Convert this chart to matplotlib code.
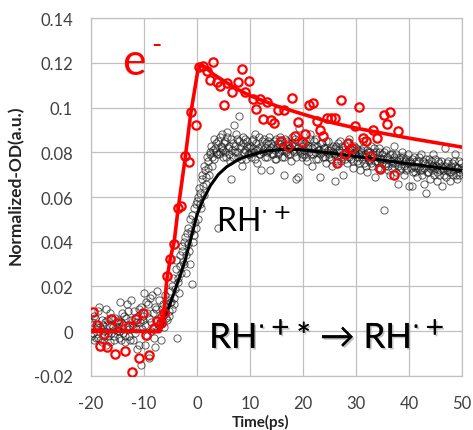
import numpy as np
import matplotlib
matplotlib.use("Agg")
import matplotlib.pyplot as plt
import matplotlib.patheffects as pe

# ---------------- data ----------------
# black (RH.+) scatter, scan 1: every 0.25 ps from -20 to 50 ps
black_t = np.arange(-20.0, 50.001, 0.25)
black_y = [
    # -20 .. -15.25
    -0.002, 0.004, -0.004, 0.006, 0.001, -0.003, 0.011, 0.002, -0.005, 0.003,
    0.000, -0.006, 0.005, -0.002, 0.008, -0.001, 0.003, -0.004, 0.006, 0.001,
    # -15 .. -10.25
    0.002, -0.003, 0.013, 0.004, -0.001, 0.007, -0.005, 0.002, 0.009, -0.002,
    0.014, 0.003, -0.004, 0.006, 0.001, -0.008, 0.010, 0.004, -0.015, 0.007,
    # -10 .. -5.25
    0.017, -0.006, 0.008, 0.012, -0.012, 0.004, 0.016, 0.001, -0.007, 0.010,
    0.018, 0.003, 0.006, -0.004, 0.012, 0.002, 0.009, 0.005, 0.014, 0.007,
    # -5 .. -0.25
    0.018, 0.010, 0.024, 0.015, 0.028, -0.003, 0.022, 0.034, 0.026, 0.038,
    0.030, 0.042, 0.026, 0.046, 0.036, 0.050, 0.021, 0.040, 0.055, 0.046,
    # 0 .. 4.75
    0.058, 0.050, 0.062, 0.055, 0.068, 0.061, 0.072, 0.066, 0.076, 0.070,
    0.079, 0.074, 0.081, 0.077, 0.084, 0.079, 0.046, 0.080, 0.083, 0.088,
    # 5 .. 9.75
    0.081, 0.085, 0.078, 0.089, 0.083, 0.076, 0.068, 0.084, 0.092, 0.080,
    0.086, 0.078, 0.096, 0.083, 0.074, 0.087, 0.081, 0.077, 0.085, 0.079,
    # 10 .. 14.75
    0.083, 0.078, 0.086, 0.080, 0.088, 0.075, 0.082, 0.079, 0.072, 0.085,
    0.081, 0.078, 0.084, 0.080, 0.087, 0.072, 0.082, 0.079, 0.085, 0.081,
    # 15 .. 19.75
    0.077, 0.084, 0.080, 0.087, 0.078, 0.083, 0.070, 0.081, 0.085, 0.079,
    0.082, 0.076, 0.084, 0.080, 0.086, 0.068, 0.069, 0.091, 0.081, 0.078,
    # 20 .. 24.75
    0.083, 0.079, 0.085, 0.076, 0.082, 0.088, 0.079, 0.074, 0.083, 0.080,
    0.086, 0.077, 0.081, 0.069, 0.084, 0.078, 0.082, 0.075, 0.080, 0.085,
    # 25 .. 29.75
    0.078, 0.082, 0.074, 0.080, 0.067, 0.083, 0.077, 0.081, 0.085, 0.076,
    0.070, 0.079, 0.083, 0.075, 0.080, 0.086, 0.077, 0.081, 0.073, 0.079,
    # 30 .. 34.75
    0.082, 0.076, 0.079, 0.072, 0.081, 0.085, 0.075, 0.078, 0.071, 0.080,
    0.076, 0.083, 0.074, 0.078, 0.069, 0.080, 0.076, 0.082, 0.073, 0.077,
    # 35 .. 39.75
    0.079, 0.054, 0.074, 0.081, 0.072, 0.077, 0.070, 0.079, 0.075, 0.083,
    0.071, 0.076, 0.066, 0.078, 0.073, 0.080, 0.070, 0.076, 0.072, 0.079,
    # 40 .. 44.75
    0.065, 0.075, 0.065, 0.071, 0.078, 0.073, 0.069, 0.076, 0.072, 0.079,
    0.070, 0.066, 0.075, 0.062, 0.071, 0.077, 0.068, 0.074, 0.079, 0.070,
    # 45 .. 50
    0.073, 0.067, 0.076, 0.070, 0.074, 0.065, 0.072, 0.082, 0.069, 0.075,
    0.071, 0.067, 0.074, 0.070, 0.076, 0.079, 0.068, 0.073, 0.070, 0.075,
    0.072,
]

# black scatter, scan 2: every 0.25 ps from -19.875 to 49.875 ps
black_t2 = np.arange(-19.875, 49.9, 0.25)
black_y2 = [
    0.003, -0.001, 0.007, -0.003, 0.002, 0.009, -0.004, 0.001, 0.005, -0.002,
    0.004, 0.010, -0.001, 0.003, -0.005, 0.006, 0.002, -0.002, 0.004, 0.000,
    0.005, 0.000, -0.004, 0.008, 0.003, -0.002, 0.006, 0.012, 0.001, -0.004,
    0.005, 0.002, 0.009, -0.001, 0.004, 0.007, -0.006, 0.011, 0.001, 0.005,
    0.003, 0.013, -0.002, 0.006, 0.015, 0.000, 0.008, -0.003, 0.011, 0.005,
    0.001, 0.014, 0.007, 0.010, 0.004, 0.016, 0.006, 0.012, 0.009, 0.013,
    0.013, 0.020, 0.012, 0.019, 0.032, 0.024, 0.017, 0.029, 0.036, 0.031,
    0.040, 0.034, 0.044, 0.039, 0.030, 0.045, 0.052, 0.043, 0.049, 0.057,
    0.060, 0.064, 0.057, 0.070, 0.065, 0.074, 0.069, 0.078, 0.073, 0.080,
    0.083, 0.078, 0.086, 0.082, 0.080, 0.085, 0.079, 0.087, 0.082, 0.078,
    0.084, 0.080, 0.087, 0.082, 0.079, 0.086, 0.081, 0.078, 0.083, 0.088,
    0.080, 0.085, 0.082, 0.077, 0.084, 0.080, 0.086, 0.083, 0.079, 0.082,
    0.080, 0.085, 0.082, 0.077, 0.084, 0.081, 0.087, 0.079, 0.083, 0.080,
    0.086, 0.082, 0.078, 0.085, 0.081, 0.084, 0.079, 0.083, 0.077, 0.086,
    0.082, 0.079, 0.085, 0.081, 0.083, 0.078, 0.086, 0.080, 0.084, 0.082,
    0.079, 0.087, 0.081, 0.083, 0.078, 0.085, 0.082, 0.080, 0.084, 0.079,
    0.081, 0.084, 0.078, 0.083, 0.080, 0.086, 0.082, 0.079, 0.085, 0.077,
    0.083, 0.081, 0.079, 0.084, 0.080, 0.082, 0.078, 0.085, 0.081, 0.079,
    0.081, 0.077, 0.083, 0.079, 0.082, 0.076, 0.084, 0.080, 0.078, 0.083,
    0.081, 0.077, 0.080, 0.084, 0.078, 0.082, 0.079, 0.076, 0.083, 0.080,
    0.078, 0.081, 0.075, 0.080, 0.077, 0.082, 0.079, 0.074, 0.081, 0.077,
    0.080, 0.075, 0.079, 0.082, 0.076, 0.078, 0.073, 0.080, 0.077, 0.075,
    0.077, 0.080, 0.075, 0.078, 0.074, 0.079, 0.076, 0.073, 0.078, 0.075,
    0.079, 0.074, 0.077, 0.072, 0.076, 0.078, 0.074, 0.077, 0.073, 0.075,
    0.076, 0.073, 0.077, 0.074, 0.071, 0.076, 0.073, 0.078, 0.074, 0.072,
    0.076, 0.073, 0.077, 0.071, 0.075, 0.073, 0.076, 0.072, 0.074, 0.077,
    0.074, 0.071, 0.075, 0.072, 0.076, 0.073, 0.070, 0.074, 0.072, 0.076,
    0.073, 0.071, 0.075, 0.072, 0.074, 0.070, 0.073, 0.076, 0.071, 0.073,
]

# red (e-) scatter
red_t = [-19.7, -18.9, -18.3, -17.6, -16.9, -16.3, -15.5, -15.0, -13.6, -12.9,
         -12.3, -11.6, -10.9, -10.2, -9.6, -9.0, -8.2, -7.6, -6.8, -6.3,
         -5.6, -5.0, -4.3, -3.6, -3.0, -2.2, -1.6, -1.2, -0.2, 0.3,
         1.2, 1.9, 2.4, 3.1, 3.7, 4.4, 5.1, 5.6, 6.6, 7.8,
         8.4, 9.1, 9.8, 10.5, 11.1, 11.9, 12.4, 13.2, 13.9, 14.5,
         15.2, 15.8, 16.5, 17.1, 17.9, 18.4, 19.1, 19.9, 20.4, 21.2,
         21.8, 22.6, 23.2, 23.8, 24.5, 25.2, 26.0, 26.5, 27.1, 27.9,
         28.5, 29.2, 29.9, 30.5, 31.4, 31.9, 32.6, 33.3, 33.9, 34.5,
         35.3, 35.9, 36.5, 37.2, 37.9]
red_y = [0.0085, 0.0030, -0.0065, -0.0013, -0.0070, 0.0055, -0.0103, 0.0037, -0.0088, 0.0022,
         -0.0180, 0.0055, -0.0120, 0.0082, -0.0017, -0.0106, 0.0016, 0.0046, 0.0037, 0.0082,
         0.0245, 0.0322, 0.0388, 0.0550, 0.0562, 0.0785, 0.0755, 0.0979, 0.0923, 0.1182,
         0.1185, 0.1165, 0.1124, 0.1202, 0.1113, 0.1096, 0.1013, 0.1109, 0.1071, 0.1115,
         0.1170, 0.1068, 0.1119, 0.1038, 0.0993, 0.1038, 0.0950, 0.1026, 0.0943, 0.0931,
         0.0987, 0.0850, 0.0990, 0.0830, 0.1041, 0.0874, 0.0937, 0.0847, 0.0880, 0.1010,
         0.1020, 0.0941, 0.0901, 0.0871, 0.0951, 0.0952, 0.0955, 0.0752, 0.1035, 0.0792,
         0.0841, 0.0821, 0.0919, 0.1001, 0.0862, 0.0849, 0.0782, 0.0901, 0.0862, 0.0727,
         0.0966, 0.0926, 0.0980, 0.0697, 0.0897]

# fit curves
red_fit_t = [-20, -7.0, -6.3, -5.7, -5.0, -4.3, -3.6, -2.2, -1.2, 0.3, 1.3,
             3.0, 5.0, 7.5, 10, 15, 20, 25, 30, 35, 40, 45, 50]
red_fit_y = [0.0, 0.0, 0.007, 0.023, 0.033, 0.040, 0.054, 0.078, 0.097, 0.1185, 0.1185,
             0.1150, 0.1120, 0.1083, 0.1053, 0.1007, 0.0970, 0.0935, 0.0908, 0.0885,
             0.0863, 0.0843, 0.0823]
black_fit_t = [-20, -7.5, -6.5, -5.7, -4.5, -3.3, -2.2, -1.2, 0.0, 1.0, 2.5, 4.0,
               5.6, 8.0, 10, 13, 16, 19.5, 25, 31, 37.5, 44, 50]
black_fit_y = [0.0, 0.0, 0.003, 0.0085, 0.016, 0.024, 0.032, 0.041, 0.052, 0.058,
               0.065, 0.070, 0.0735, 0.077, 0.0787, 0.0805, 0.0813, 0.0812, 0.0797,
               0.0778, 0.0756, 0.0736, 0.0718]

x_ticks = [-20, -10, 0, 10, 20, 30, 40, 50]
y_ticks = [-0.02, 0, 0.02, 0.04, 0.06, 0.08, 0.1, 0.12, 0.14]
y_tick_labels = ["-0.02", "0", "0.02", "0.04", "0.06", "0.08", "0.1", "0.12", "0.14"]

# ---------------- plot ----------------
plt.rcParams['font.family'] = ['Lato', 'DejaVu Sans']
plt.rcParams['axes.unicode_minus'] = False
fig = plt.figure(figsize=(4.73, 4.31), dpi=100)
ax = fig.add_axes([0.1924, 0.1253, 0.7843, 0.8306])

marker_kw = dict(linestyle='none', marker='o', markersize=5.2,
                 markerfacecolor='none', markeredgecolor='#1a1a1a',
                 markeredgewidth=0.7, alpha=0.7, zorder=3)
ax.plot(black_t, black_y, **marker_kw)
ax.plot(black_t2, black_y2, **marker_kw)
ax.plot(black_fit_t, black_fit_y, color='black', linewidth=2.2, zorder=4)
ax.plot(red_t, red_y, linestyle='none', marker='o', markersize=6.0,
        markerfacecolor='none', markeredgecolor='#ff0000', markeredgewidth=1.6,
        zorder=5)
ax.plot(red_fit_t, red_fit_y, color='#ff0000', linewidth=2.6, zorder=6)

ax.set_xlim(-20, 50)
ax.set_ylim(-0.02, 0.14)
ax.set_xticks(x_ticks)
ax.set_yticks(y_ticks)
ax.set_yticklabels(y_tick_labels)
ax.grid(True, color='#c0c0c0', linewidth=0.9)
ax.set_axisbelow(True)
for s in ax.spines.values():
    s.set_color('#c0c0c0')
    s.set_linewidth(0.9)
ax.tick_params(axis='both', length=0, labelsize=12, labelcolor='#404040')
ax.tick_params(axis='x', pad=14)
ax.tick_params(axis='y', pad=13)

fig.text(0.033, 0.57, "Normalized-OD(a.u.)", rotation=90, ha='center', va='center',
         fontsize=12.5, fontweight='bold', color='#222222')
fig.text(0.55, 0.003, "Time(ps)", ha='center', va='bottom', fontsize=11,
         fontweight='bold', color='#222222')

shadow = [pe.withSimplePatchShadow(offset=(1.2, -1.2), shadow_rgbFace='#888888', alpha=0.5),
          pe.Normal()]
ax.text(-14.2, 0.1205, "e", color='#ff0000', fontsize=32,
        ha='left', va='center', zorder=7)
ax.text(-8.7, 0.1245, "-", color='#ff0000', fontsize=20,
        ha='left', va='baseline', zorder=7)
ax.text(3.5, 0.049, "RH$^{\\cdot+}$", color='black', fontsize=23,
        ha='left', va='center', zorder=7)
ax.text(2.3, -0.0025, "RH$^{\\cdot+}$* \u2192 RH$^{\\cdot+}$", color='black', fontsize=25,
        ha='left', va='center', zorder=7, path_effects=shadow)

fig.savefig("out.png", dpi=100)
